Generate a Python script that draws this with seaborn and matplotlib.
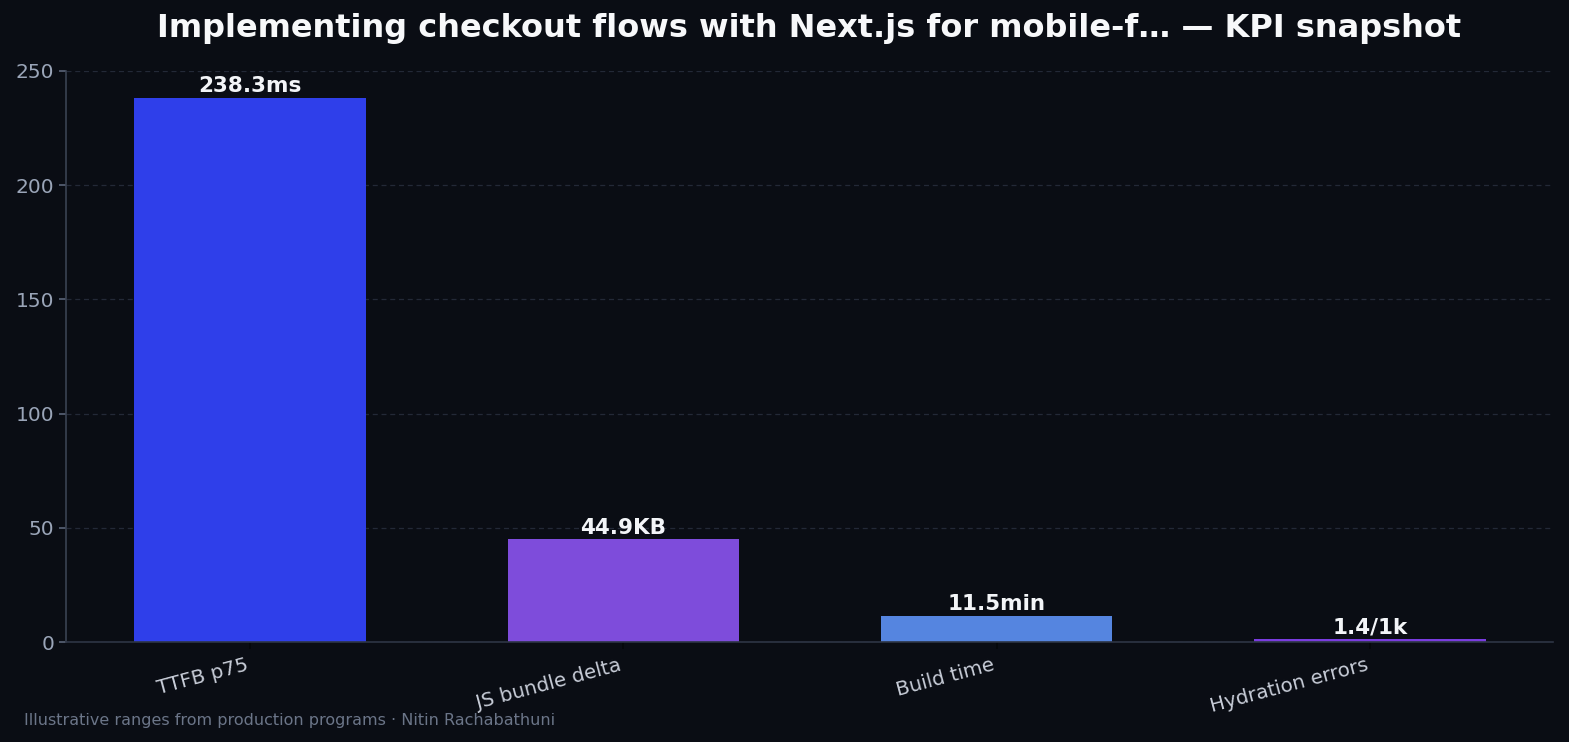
import matplotlib
matplotlib.use("Agg")
import matplotlib.pyplot as plt
import matplotlib.transforms as mtransforms
import seaborn as sns
import pandas as pd

categories = ["TTFB p75", "JS bundle delta", "Build time", "Hydration errors"]
values = [238.3, 44.9, 11.5, 1.4]
value_labels = ["238.3ms", "44.9KB", "11.5min", "1.4/1k"]
colors = ["#2F3FEA", "#7E4CDB", "#5585E0", "#7A3CE0"]
y_ticks = [0, 50, 100, 150, 200, 250]

title = "Implementing checkout flows with Next.js for mobile-f\u2026 \u2014 KPI snapshot"
footer = "Illustrative ranges from production programs \u00b7 Nitin Rachabathuni"

BG = "#0A0D14"
sns.set_theme(style="dark")
plt.rcParams["font.family"] = ["DejaVu Sans"]

df = pd.DataFrame({"metric": categories, "value": values})

fig = plt.figure(figsize=(15.69, 7.42), dpi=100, facecolor=BG)
ax = fig.add_axes([66 / 1569, 1 - 642 / 742, (1553 - 66) / 1569, (642 - 71) / 742])
ax.set_facecolor(BG)

sns.barplot(data=df, x="metric", y="value", hue="metric", palette=colors,
            width=0.62, ax=ax, legend=False, saturation=1,
            edgecolor="none", linewidth=0)

ax.set_ylim(0, 250)
ax.set_xlim(-0.493, 3.49)
ax.set_yticks(y_ticks)
ax.set_xlabel("")
ax.set_ylabel("")

for i, (v, lab) in enumerate(zip(values, value_labels)):
    ax.text(i, v + 0.6, lab, ha="center", va="bottom", color="#F3F5F8",
            fontsize=15.5, fontweight="bold")

ax.grid(axis="y", color="#2A3140", linestyle=(0, (4, 3)), linewidth=0.9, alpha=0.8)
ax.grid(axis="x", visible=False)
ax.set_axisbelow(True)

for s in ["top", "right"]:
    ax.spines[s].set_visible(False)
ax.spines["left"].set_color("#3A4252")
ax.spines["bottom"].set_color("#2E3545")
ax.spines["left"].set_linewidth(1.2)
ax.spines["bottom"].set_linewidth(1.2)

ax.tick_params(axis="y", colors="#5A6478", labelcolor="#9AA5B8", labelsize=14.5,
               length=5, width=1.2, left=True)
ax.tick_params(axis="x", colors="#05070A", labelcolor="#C8CDD8", labelsize=14.3,
               length=5, width=1.2, bottom=True)
offset = mtransforms.ScaledTranslation(-5 / 100, -2 / 100, fig.dpi_scale_trans)
for lbl in ax.get_xticklabels():
    lbl.set_rotation(15)
    lbl.set_ha("right")
    lbl.set_rotation_mode("anchor")
    lbl.set_transform(lbl.get_transform() + offset)

fig.text(809.5 / 1569, 1 - 28 / 742, title, ha="center", va="center", color="#F7F8FA",
         fontsize=23, fontweight="bold")
fig.text(24 / 1569, 1 - 720 / 742, footer, ha="left", va="center",
         color="#6B7588", fontsize=11.5)

fig.savefig("out.png", dpi=100, facecolor=BG)
